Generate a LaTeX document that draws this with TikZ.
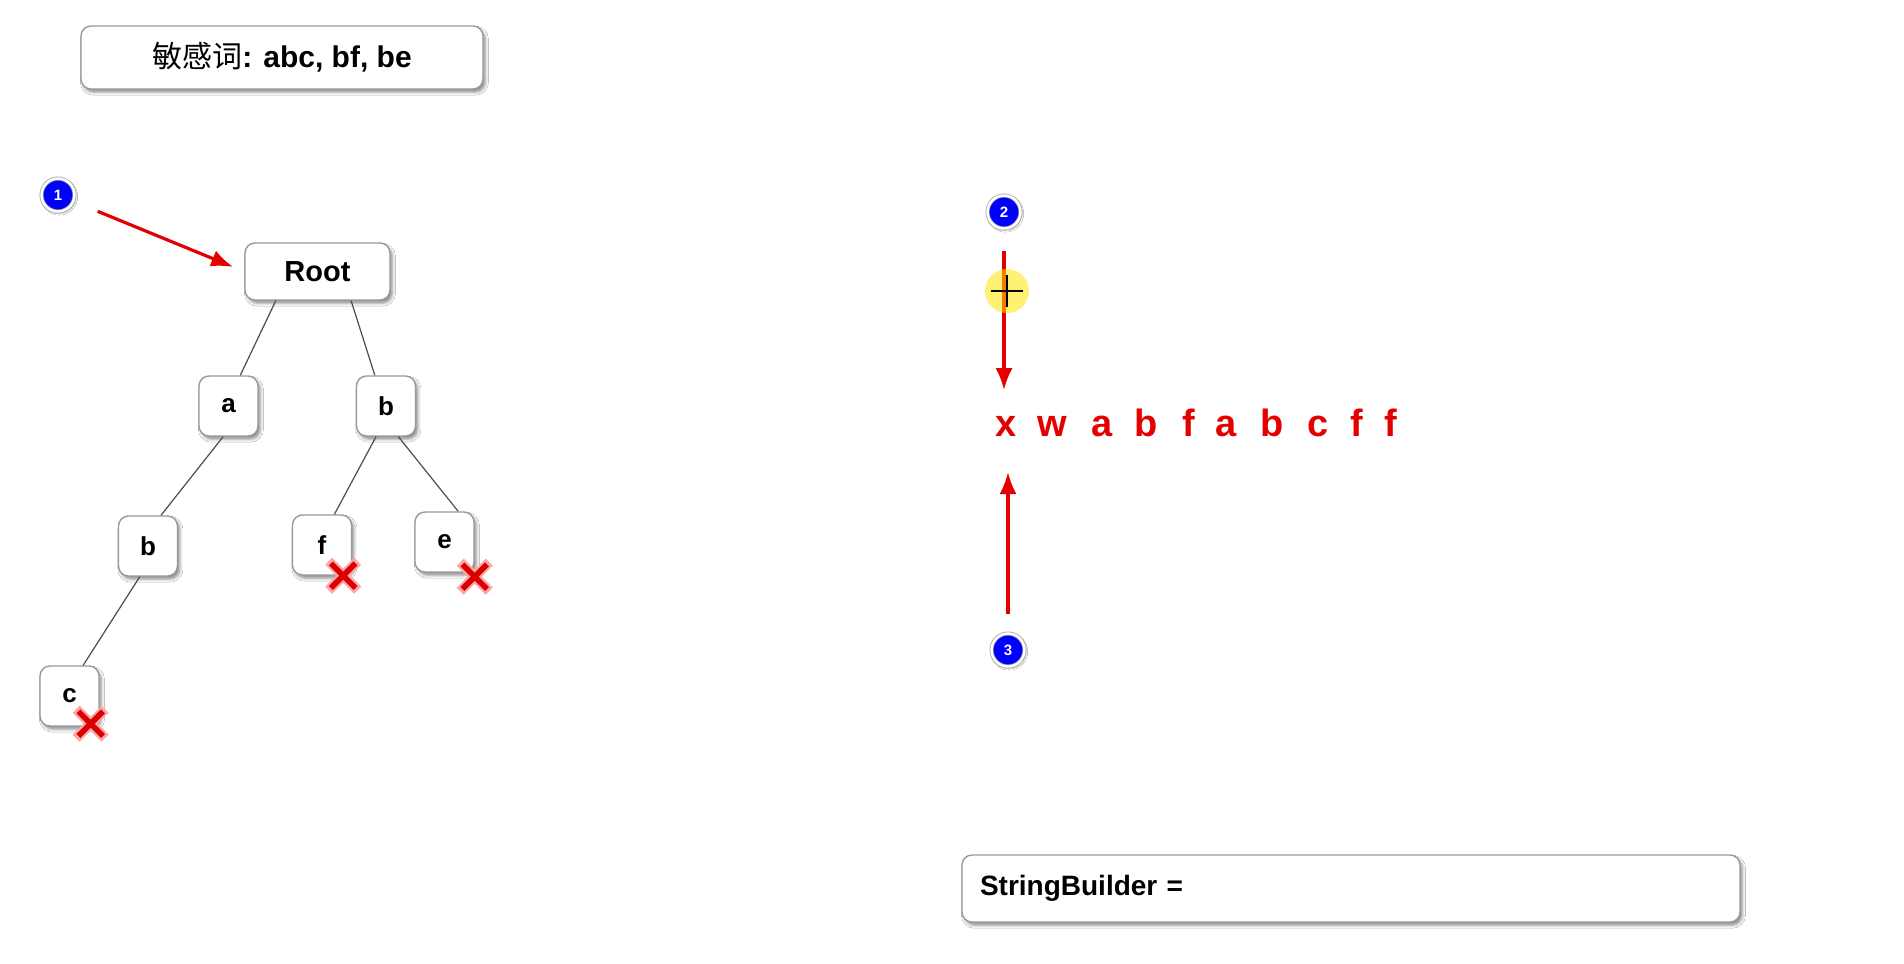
\documentclass[tikz,border=0pt]{standalone}
\usepackage{fontspec}
\setmainfont{Liberation Sans}
\newfontfamily\cjk{Noto Sans CJK SC}
\usetikzlibrary{arrows.meta,shadows.blur,shapes.misc}

\tikzstyle{box}=[draw=gray!80,line width=0.7pt,fill=white,rounded corners=5pt,blur shadow={shadow xshift=1.2pt,shadow yshift=-1.6pt,shadow blur radius=1.5pt,shadow opacity=45}]
\tikzstyle{vertex}=[box,minimum width=29.5pt,minimum height=30pt,inner sep=0pt,font=\fontsize{13}{13}\selectfont\bfseries]
\tikzstyle{branch}=[draw,gray!60!black,line width=0.6pt]
\tikzstyle{pointer}=[draw,red!90!black,line width=1.6pt,->,>={Latex[length=11pt,width=8.5pt]}]
\tikzstyle{badge}=[circle,fill=blue,draw=gray!70,double=white,double distance=1.2pt,line width=0.4pt,minimum size=16.5pt,inner sep=0pt,text=white,font=\fontsize{7.5}{7.5}\selectfont\bfseries,blur shadow={shadow xshift=0.6pt,shadow yshift=-0.8pt,shadow blur radius=1pt,shadow opacity=40}]
\tikzstyle{letter}=[text=red!90!black,font=\fontsize{19}{19}\selectfont\bfseries,inner sep=0pt,text height=10pt,text depth=0pt,anchor=south]
\tikzstyle{hitrim}=[cross out,draw=red!35,line width=5pt,minimum size=9.5pt,inner sep=0pt]
\tikzstyle{hit}=[cross out,draw=red!85!black,line width=2.8pt,minimum size=9.5pt,inner sep=0pt]

\begin{document}
\begin{tikzpicture}[x=0.5pt,y=-0.5pt]
\useasboundingbox[fill=white] (0,0) rectangle (1904,963);
% sensitive words
\node[box,minimum width=201pt,minimum height=31.5pt,font=\fontsize{15}{15}\selectfont\bfseries] (words) at (282,57.5) {{\cjk\mdseries 敏感词}: abc, bf, be};
% trie
\node[box,minimum width=72.5pt,minimum height=28.5pt,font=\fontsize{14.5}{14.5}\selectfont\bfseries] (Root) at (317.5,271.5) {Root};
\foreach \pos/\name/\ch in {{(228.5,406)/A/a}, {(386,406)/B/b}, {(148,546)/AB/b},
                            {(322,545)/BF/f}, {(444.5,542)/BE/e}, {(69.5,696)/ABC/c}}{
  \node[vertex] (\name) at \pos {\ch};
}
\foreach \source/\sa/\dest/\da in {Root/215/A/69, Root/319/B/110, A/260/AB/67,
                                   AB/255/ABC/66, B/252/BF/68, B/292/BE/66}{
  \path[branch] (\source.\sa) -- (\dest.\da);
}
% word ends
\foreach \name/\dx/\dy in {ABC/-4.5/1.5, BF/-4.5/0, BE/0/-2}{
  \node[hitrim] at ([xshift=\dx pt,yshift=\dy pt]\name.south east) {};
  \node[hit] (\name end) at ([xshift=\dx pt,yshift=\dy pt]\name.south east) {};
}
% steps
\node[badge] (one) at (58,195) {1};
\node[badge] (two) at (1004,212) {2};
\node[badge] (three) at (1008,650) {3};
\path[pointer,shorten <=13pt,shorten >=6pt] (one) -- (Root.west);
% text to check
\foreach \px/\ch [count=\i] in {1006/x, 1052/w, 1102/a, 1146/b, 1189/f,
                                1226/a, 1272/b, 1318/c, 1357/f, 1391/f}{
  \node[letter] (s\i) at (\px,437) {\ch};
}
\path[pointer,shorten <=11pt,shorten >=13pt] (two) -- (two |- s1.north);
\path[pointer,shorten <=9.5pt,shorten >=17.5pt] (three) -- (three |- s1.south);
% cursor
\node[circle,fill=yellow!90!orange,opacity=0.55,minimum size=22pt] (cursor) at (1007,291) {};
\draw[line width=1.2pt] ([xshift=-8pt]cursor.center) -- ([xshift=8pt]cursor.center);
\draw[line width=1.2pt] ([yshift=-8pt]cursor.center) -- ([yshift=8pt]cursor.center);
% result
\node[box,minimum width=389pt,minimum height=33.5pt,text width=371pt,align=left,inner sep=9pt,font=\fontsize{14}{14}\selectfont\bfseries] (sb) at (1351,888.5) {StringBuilder =};
\end{tikzpicture}
\end{document}
